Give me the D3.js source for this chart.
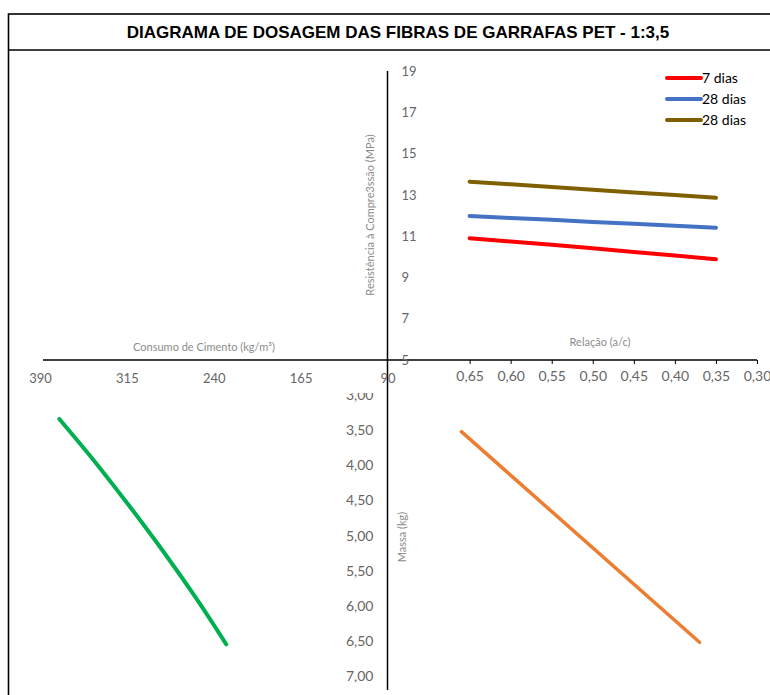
<!DOCTYPE html>
<html>
<head>
<meta charset="utf-8">
<script src="https://cdn.jsdelivr.net/npm/d3@7"></script>
<style>
  body { margin: 0; background: #fff; }
  svg text { font-family: Lato, "Open Sans", sans-serif; }
</style>
</head>
<body>
<svg id="chart" width="770" height="695"></svg>
<script>
// ---- data ----
var titleText = "DIAGRAMA DE DOSAGEM DAS FIBRAS DE GARRAFAS PET - 1:3,5";

// top right: relação a/c vs resistência
var acRatios   = [0.65, 0.60, 0.55, 0.50, 0.45, 0.40, 0.35];
var res7dias   = [10.90, 10.74, 10.58, 10.41, 10.23, 10.06, 9.88];
var res28dias  = [11.98, 11.88, 11.79, 11.69, 11.60, 11.50, 11.41];
var res28diasB = [13.64, 13.51, 13.38, 13.25, 13.12, 12.99, 12.86];
var seriesNames  = ["7 dias", "28 dias", "28 dias"];
var seriesColors = ["#ff0000", "#4472c4", "#7f6000"];

// bottom left: consumo de cimento vs massa
var cimento     = [373.3, 340.6, 310.5, 281.7, 254.5, 229.2];
var massaCim    = [3.34, 3.99, 4.63, 5.27, 5.91, 6.55];
// bottom right: relação a/c vs massa
var acMassa     = [0.66, 0.37];
var massaAc     = [3.52, 6.52];

// tick labels
var resTicks    = [5, 7, 9, 11, 13, 15, 17, 19];
var acTicks     = [0.65, 0.60, 0.55, 0.50, 0.45, 0.40, 0.35, 0.30];
var cimTicks    = [390, 315, 240, 165, 90];
var massaTicks  = [3.0, 3.5, 4.0, 4.5, 5.0, 5.5, 6.0, 6.5, 7.0];

// ---- layout ----
var svg = d3.select("#chart");
var originX = 387.5, originY = 360;
var fmtComma = function(d, n) { return d.toFixed(n).replace(".", ","); };

// frame + title box
svg.append("rect")
  .attr("x", 8.5).attr("y", 14).attr("width", 800).attr("height", 700)
  .attr("fill", "none").attr("stroke", "#000").attr("stroke-width", 1.6);
svg.append("line")
  .attr("x1", 8.5).attr("x2", 800).attr("y1", 50).attr("y2", 50)
  .attr("stroke", "#000").attr("stroke-width", 1.6);
svg.append("text")
  .attr("x", 398).attr("y", 37.5)
  .attr("text-anchor", "middle")
  .style("font-family", "'Liberation Sans', Arial, sans-serif")
  .style("font-weight", "bold")
  .style("font-size", "17px")
  .text(titleText);

// scales
var xAc   = d3.scaleLinear().domain([0.75, 0.30]).range([originX, 757]);
var yRes  = d3.scaleLinear().domain([5, 19]).range([originY, 71]);
var xCim  = d3.scaleLinear().domain([390, 90]).range([40, originX]);
var yMass = d3.scaleLinear().domain([2.5, 7]).range([originY, 676]);

// main cross axes
svg.append("line")
  .attr("x1", originX).attr("x2", originX).attr("y1", 71).attr("y2", 690)
  .attr("stroke", "#000").attr("stroke-width", 1.5);
svg.append("line")
  .attr("x1", 43).attr("x2", 757).attr("y1", originY).attr("y2", originY)
  .attr("stroke", "#000").attr("stroke-width", 1.5);

// relação a/c axis (top right, ticks down)
var acAxis = svg.append("g")
  .attr("transform", "translate(0," + originY + ")")
  .call(d3.axisBottom(xAc).tickValues(acTicks).tickSize(4).tickPadding(7)
        .tickFormat(function(d) { return fmtComma(d, 2); }));
acAxis.select(".domain").remove();
acAxis.selectAll("line").attr("stroke", "#000");
acAxis.selectAll("text").attr("fill", "#666").style("font-size", "14px")
  .style("font-family", "Lato, sans-serif");

// resistência labels (right of axis)
var resAxis = svg.append("g")
  .attr("transform", "translate(" + (originX + 14) + ",0)")
  .call(d3.axisRight(yRes).tickValues(resTicks).tickSize(0).tickPadding(0));
resAxis.select(".domain").remove();
resAxis.selectAll("text").attr("fill", "#666").style("font-size", "13px")
  .style("font-family", "Lato, sans-serif");

// consumo de cimento labels (below axis)
var cimAxis = svg.append("g")
  .attr("transform", "translate(0," + originY + ")")
  .call(d3.axisBottom(xCim).tickValues(cimTicks).tickSize(0).tickPadding(14));
cimAxis.select(".domain").remove();
cimAxis.selectAll("text").attr("fill", "#666").style("font-size", "13px")
  .style("font-family", "Lato, sans-serif");

// massa labels (left of axis), top label partly hidden
svg.append("clipPath").attr("id", "massClip")
  .append("rect").attr("x", 300).attr("y", 393).attr("width", 100).attr("height", 300);
var massAxis = svg.append("g")
  .attr("clip-path", "url(#massClip)")
  .append("g")
  .attr("transform", "translate(" + (originX - 14) + ",0)")
  .call(d3.axisLeft(yMass).tickValues(massaTicks).tickSize(0).tickPadding(0)
        .tickFormat(function(d) { return fmtComma(d, 2); }));
massAxis.select(".domain").remove();
massAxis.selectAll("text").attr("fill", "#666").style("font-size", "14px")
  .style("font-family", "Lato, sans-serif");

// axis titles
var titleStyle = function(sel) {
  sel.attr("fill", "#8c8c8c").style("font-size", "11px").attr("text-anchor", "middle");
};
svg.append("text").attr("x", 204).attr("y", 351).text("Consumo de Cimento (kg/m³)").call(titleStyle);
svg.append("text").attr("x", 600).attr("y", 346).text("Relação (a/c)").call(titleStyle);
svg.append("text")
  .attr("transform", "translate(374,215) rotate(-90)")
  .text("Resistência à Compre3ssão (MPa)").call(titleStyle);
svg.append("text")
  .attr("transform", "translate(406,537) rotate(-90)")
  .text("Massa (kg)").call(titleStyle);

// resistência lines
var resLine = d3.line()
  .x(function(d) { return xAc(d[0]); })
  .y(function(d) { return yRes(d[1]); });
[res7dias, res28dias, res28diasB].forEach(function(vals, i) {
  svg.append("path")
    .datum(acRatios.map(function(a, j) { return [a, vals[j]]; }))
    .attr("fill", "none")
    .attr("stroke", seriesColors[i])
    .attr("stroke-width", 4)
    .attr("stroke-linecap", "round")
    .attr("d", resLine);
});

// legend
var legend = svg.append("g").attr("transform", "translate(667,78)");
seriesNames.forEach(function(name, i) {
  var g = legend.append("g").attr("transform", "translate(0," + (i * 21) + ")");
  g.append("line").attr("x1", 0).attr("x2", 34).attr("y1", 0).attr("y2", 0)
    .attr("stroke", seriesColors[i]).attr("stroke-width", 4).attr("stroke-linecap", "round");
  g.append("text").attr("x", 35).attr("y", 5).text(name)
    .style("font-size", "14px").attr("fill", "#000");
});

// cimento vs massa (green)
svg.append("path")
  .datum(cimento.map(function(c, j) { return [c, massaCim[j]]; }))
  .attr("fill", "none")
  .attr("stroke", "#00b050")
  .attr("stroke-width", 4)
  .attr("stroke-linecap", "round")
  .attr("d", d3.line().curve(d3.curveCatmullRom)
    .x(function(d) { return xCim(d[0]); })
    .y(function(d) { return yMass(d[1]); }));

// a/c vs massa (orange)
svg.append("path")
  .datum(acMassa.map(function(a, j) { return [a, massaAc[j]]; }))
  .attr("fill", "none")
  .attr("stroke", "#ed7d31")
  .attr("stroke-width", 3.5)
  .attr("stroke-linecap", "round")
  .attr("d", d3.line()
    .x(function(d) { return xAc(d[0]); })
    .y(function(d) { return yMass(d[1]); }));
</script>
</body>
</html>
